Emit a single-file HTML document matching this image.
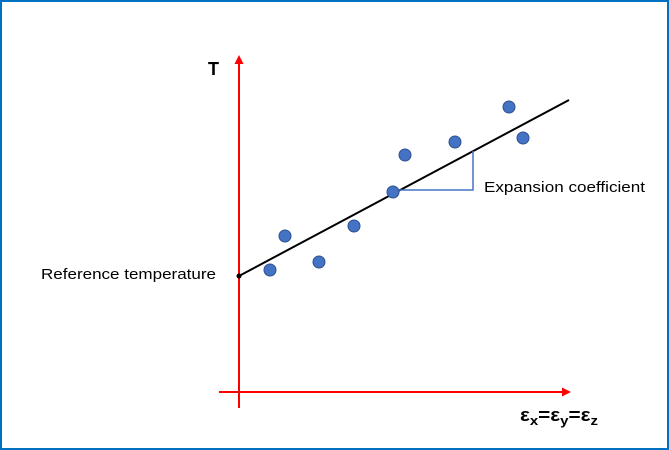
<!DOCTYPE html>
<html><head><style>
body{margin:0;background:#fff}
svg{display:block}
text{font-family:"Liberation Sans",sans-serif}
</style></head><body>
<svg width="669" height="450" viewBox="0 0 669 450" xmlns="http://www.w3.org/2000/svg">
<rect x="1" y="1" width="667" height="448" fill="#fff" stroke="#0070C0" stroke-width="2"/>
<line x1="239" y1="408" x2="239" y2="63" stroke="#f00" stroke-width="2"/>
<polygon points="239,55 234.5,64 243.5,64" fill="#f00"/>
<line x1="219" y1="392" x2="562" y2="392" stroke="#f00" stroke-width="2"/>
<polygon points="571,392 562,387.5 562,396.5" fill="#f00"/>
<line x1="239" y1="276" x2="569" y2="100" stroke="#000" stroke-width="2"/>
<circle cx="239" cy="276" r="2.5" fill="#000"/>
<polyline points="393,190 473,190 473,151" fill="none" stroke="#4472C4" stroke-width="1.5"/>
<g fill="#4472C4" stroke="#2F528F" stroke-width="1">
<circle cx="270" cy="270" r="6"/><circle cx="285" cy="236" r="6"/><circle cx="319" cy="262" r="6"/>
<circle cx="354" cy="226" r="6"/><circle cx="393" cy="192" r="6"/><circle cx="405" cy="155" r="6"/>
<circle cx="455" cy="142" r="6"/><circle cx="509" cy="107" r="6"/><circle cx="523" cy="138" r="6"/>
</g>
<text x="208" y="75" font-size="18" font-weight="bold">T</text>
<text x="484" y="192" font-size="15" textLength="161" lengthAdjust="spacingAndGlyphs">Expansion coefficient</text>
<text x="41" y="279" font-size="15" textLength="175" lengthAdjust="spacingAndGlyphs">Reference temperature</text>
<text x="520" y="421" font-size="18" font-weight="bold" textLength="78" lengthAdjust="spacingAndGlyphs">ε<tspan font-size="13" dy="4">x</tspan><tspan dy="-4">=ε</tspan><tspan font-size="13" dy="4">y</tspan><tspan dy="-4">=ε</tspan><tspan font-size="13" dy="4">z</tspan></text>
</svg>
</body></html>
